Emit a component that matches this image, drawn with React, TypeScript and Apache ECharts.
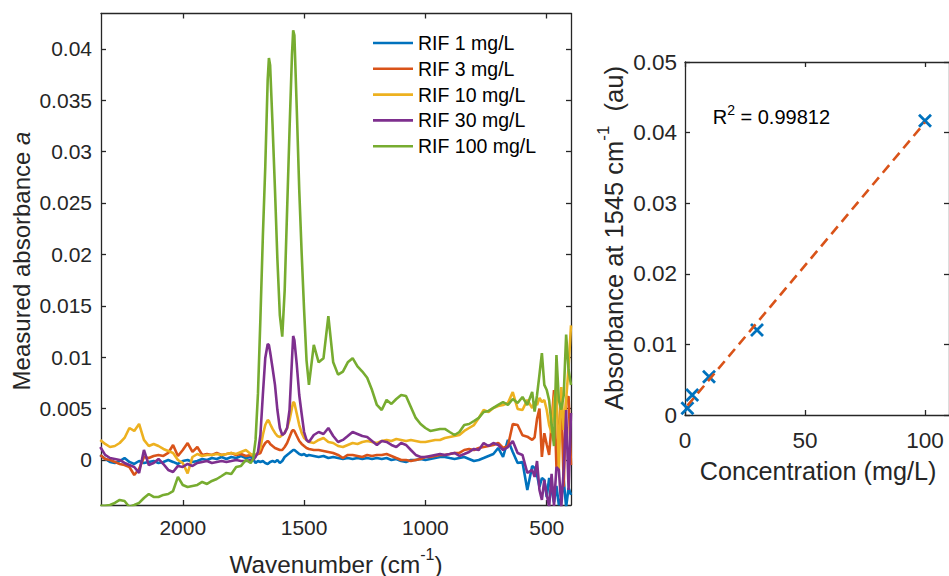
import React, { useEffect, useRef } from "react";
import * as echarts from "echarts";

// ---------- Left panel: spectra (absorbance values in units of 1e-3) ----------
const wavenumbers = [
  2340, 2320, 2300, 2280, 2260, 2240, 2220, 2200, 2180, 2160,
  2140, 2120, 2100, 2080, 2060, 2040, 2020, 2000, 1980, 1960,
  1940, 1920, 1900, 1880, 1860, 1840, 1820, 1800, 1780, 1760,
  1740, 1720,
  1710, 1700, 1690, 1680, 1670, 1660, 1650, 1645, 1640, 1630,
  1620, 1610, 1600, 1590, 1580, 1570, 1560, 1550, 1545, 1540,
  1530, 1520, 1510, 1500, 1490, 1480,
  1460, 1440, 1420, 1400, 1380, 1360, 1340, 1320, 1300, 1280,
  1260, 1240, 1220, 1200, 1180, 1160, 1140, 1120, 1100, 1080,
  1060, 1040, 1020, 1000, 980, 960, 940, 920, 900, 880,
  860, 840, 820, 800, 780, 760, 740, 720, 700, 680,
  660, 640, 620, 600, 580, 560,
  550, 540, 530, 520, 510, 500, 490, 480, 470, 460,
  450, 440, 430, 420, 410, 400,
];

const rif1 = [
  0.49, 0.1, -0.19, -0.29, -0.1, 0.19, -0.19, -0.39, -0.1, -0.29,
  -0.19, -0.1, -0.29, -0.19, 0, -0.19, -0.39, -0.1, 0, -0.19,
  -0.1, 0.1, 0, 0.19, 0.1, 0.29, 0.1, 0.29, 0.19, 0.39,
  0.19, 0.29,
  0.1, -0.29, -0.1, -0.19, -0.1, -0.29, -0.39, -0.29, -0.19, -0.1,
  -0.19, 0, -0.29, -0.1, 0.29, 0.49, 0.68, 0.88, 0.97, 0.97,
  0.78, 0.58, 0.49, 0.58, 0.39, 0.49,
  0.39, 0.29, 0.39, 0.19, 0.29, 0.19, 0.1, 0.19, 0.1, 0.19,
  0.1, 0.19, 0.1, 0.19, 0.1, 0.19, 0, 0.1, -0.1, -0.19,
  0, 0, 0.1, 0, 0.1, 0.19, 0.29, 0.29, 0.19, 0.1,
  0.19, 0.29, 0.1, -0.1, 0, 0.19, 0.39, 0.58, 1.17, 0.29,
  1.95, 0.78, -0.29, -0.19, -2.92, -0.58,
  -0.78, -1.46, -2.63, -1.75, -1.95, -3.6, -1.75, -2.92, -4.1, -2.53,
  -4.38, -3.7, -1.95, -4.57, -2.72, -3.4,
];

const rif3 = [
  0.49, 0.1, 0, -0.19, -0.39, -0.49, -0.68, -1.46, -0.88, 0.29,
  0.19, 0.39, 0.49, 0.39, 0.68, 1.46, 0.39, 0.97, 1.65, 0.78,
  1.26, 0.49, 0.58, 0.49, 0.68, 0.49, 0.58, 0.68, 0.49, 0.58,
  0.39, 0.49,
  0.39, 0.49, 0.58, 0.68, 1.26, 1.65, 1.85, 1.75, 1.56, 1.36,
  1.17, 1.07, 0.97, 0.97, 1.26, 1.65, 2.24, 2.82, 2.92, 2.82,
  2.33, 1.85, 1.56, 1.36, 1.17, 1.07,
  0.97, 0.97, 0.88, 0.78, 0.68, 0.49, 0.19, 0.49, 0.49, 0.39,
  0.29, 0.49, 0.39, 0.49, 0.49, 0.58, 0.39, 0.19, 0, 0,
  -0.1, 0, 0.1, 0.29, 0.29, 0.39, 0.49, 0.49, 0.58, 0.68,
  0.68, 0.97, 1.07, 0.97, 1.17, 1.26, 1.36, 1.46, 1.65, 1.17,
  1.36, 3.5, 3.4, 2.4, 2.27, 1.95,
  2.2, 4.0, 5.0, 0.3, 2.6, 1.5, 0.5, 3.5, 6.8, -0.7,
  3.0, 6.2, -2.6, 5.8, 6.2, -0.5,
];

const rif10 = [
  1.95, 1.56, 1.26, 1.36, 1.65, 2.14, 3.11, 2.82, 3.5, 1.95,
  1.36, 1.56, 1.36, 1.07, 0.88, 0.68, 0, -0.3, -1.3, 0.29,
  0.58, 0.39, 0.49, 0.49, 0.58, 0.49, 0.58, 0.68, 0.58, 0.78,
  0.97, 0.58,
  0.49, 0.49, 0.68, 1.17, 2.43, 3.4, 3.89, 3.79, 3.5, 3.02,
  2.63, 2.33, 2.24, 2.43, 2.63, 3.11, 3.89, 5.06, 5.64, 5.54,
  4.47, 3.4, 2.63, 2.14, 1.95, 1.75,
  1.65, 1.95, 2.14, 1.75, 1.65, 1.36, 1.26, 1.46, 1.65, 1.56,
  1.75, 1.85, 1.75, 1.65, 1.85, 1.95, 1.85, 2.04, 1.95, 1.85,
  1.95, 1.85, 1.75, 1.75, 1.85, 1.95, 1.95, 2.14, 2.24, 2.33,
  2.43, 2.82, 3.11, 3.4, 4.09, 4.86, 4.67, 5.06, 5.25, 5.35,
  5.54, 6.61, 4.96, 4.86, 5.84, 5.06,
  5.64, 5.35, 6.03, 5.64, 5.84, 4.86, 3.4, 2.63, 5.84, 7.1,
  -0.97, 7.1, 2.92, 5.84, 9.05, 13.1,
];

const rif30 = [
  1.26, 0.49, 0.19, 0.1, 0, -0.29, -0.49, -0.68, -1.26, 0.97,
  -0.49, -0.29, 0.1, -0.39, -0.97, -1.17, -0.58, -0.68, -0.39, -0.58,
  -0.29, -0.19, -0.1, -0.29, -0.19, -0.1, -0.19, -0.1, 0, -0.1,
  -0.1, 0,
  0, 0.29, 0.78, 2.43, 6.32, 9.92, 11.28, 11.19, 10.5, 8.95,
  7.3, 4.86, 3.11, 2.43, 2.63, 3.11, 4.86, 9.73, 12.06, 11.67,
  9.24, 6.32, 4.47, 2.72, 1.95, 1.75,
  2.43, 2.72, 2.53, 3.11, 2.33, 1.75, 1.95, 2.33, 2.72, 2.53,
  2.33, 2.24, 1.85, 1.46, 1.85, 1.75, 1.46, 1.26, 1.65, 1.46,
  0.97, 0.49, 0.29, 0.29, 0.39, 0.49, 0.58, 0.49, 0.58, 0.68,
  0.39, 0.58, 0.78, 1.07, 0.97, 1.65, 1.36, 1.65, 1.46, 0.97,
  1.26, 1.85, 0.68, 0.49, -1.26, -0.97,
  -1.65, -0.1, -2.92, -3.89, -1.95, -3.4, -4.57, -1.36, -4.47, -0.68,
  -0.97, -4.57, -0.97, 4.86, -2.92, 4.57,
];

const rif100 = [
  -4.46, -4.46, -4.38, -4.18, -3.89, -3.99, -4.57, -4.38, -4.18, -3.7,
  -3.31, -3.6, -3.6, -3.4, -3.31, -3.02, -1.65, -2.43, -2.63, -2.53,
  -2.43, -2.14, -2.33, -2.04, -1.85, -1.56, -1.26, -1.36, -0.68, -0.58,
  0, -0.29,
  0.1, 1.95, 6.5, 13.8, 21.7, 28.5, 37.0, 39.1, 38.4, 32.6,
  26.3, 19.5, 14.1, 12.0, 16.5, 24.3, 32.1, 39.4, 41.8, 41.3,
  34.0, 26.3, 20.1, 14.6, 9.7, 7.3,
  11.2, 9.5, 9.9, 14.0, 9.5, 8.3, 8.6, 9.5, 9.9, 9.1,
  8.6, 8.0, 6.8, 5.35, 4.86, 5.84, 5.45, 5.93, 6.32, 6.23,
  5.16, 4.09, 3.5, 3.11, 2.82, 2.92, 3.02, 3.02, 2.72, 2.43,
  2.72, 3.4, 3.5, 3.79, 4.09, 4.67, 4.77, 5.06, 5.35, 5.64,
  5.35, 5.93, 5.54, 6.13, 5.35, 6.61,
  4.7, 6.3, 8.3, 10.4, 7.3, 6.8, 5.8, 3.4, 1.36, 10.2,
  5.8, 4.9, 6.3, 12.2, 8.75, 7.3,
];

const spectraNames = ["RIF 1 mg/L", "RIF 3 mg/L", "RIF 10 mg/L", "RIF 30 mg/L", "RIF 100 mg/L"];
const spectraColors = ["#0072BD", "#D95319", "#EDB120", "#7E2F8E", "#77AC30"];
const spectra = [rif1, rif3, rif10, rif30, rif100];

const wavenumberTicks = [2000, 1500, 1000, 500];
const absorbanceTicks = [0, 0.005, 0.01, 0.015, 0.02, 0.025, 0.03, 0.035, 0.04];

// ---------- Right panel: calibration ----------
const concentrations = [1, 3, 10, 30, 100];
const peakAbsorbance = [0.00095, 0.00283, 0.00543, 0.01204, 0.04169];
const concentrationTicks = [0, 50, 100];
const peakTicks = [0, 0.01, 0.02, 0.03, 0.04, 0.05];
const rSquaredLabel = "0.99812";

const FONT = "'Liberation Sans', Arial, Helvetica, sans-serif";
const AXIS = "#262626";

function fmt(v: number) {
  return parseFloat(v.toFixed(4)).toString();
}

function linearFit(xs: number[], ys: number[]) {
  const n = xs.length;
  const mx = xs.reduce((a, b) => a + b, 0) / n;
  const my = ys.reduce((a, b) => a + b, 0) / n;
  let sxx = 0;
  let sxy = 0;
  for (let i = 0; i < n; i++) {
    sxx += (xs[i] - mx) * (xs[i] - mx);
    sxy += (xs[i] - mx) * (ys[i] - my);
  }
  const slope = sxy / sxx;
  return { slope, intercept: my - slope * mx };
}

function axisLine() {
  return { show: true, onZero: false, lineStyle: { color: AXIS, width: 1.3 } };
}

export default function App() {
  const ref = useRef<HTMLDivElement>(null);

  useEffect(() => {
    if (!ref.current) return;
    const chart = echarts.init(ref.current, undefined, { renderer: "svg" });

    const fit = linearFit(concentrations, peakAbsorbance);
    const xLo = Math.min(...concentrations);
    const xHi = Math.max(...concentrations);
    const fitData = [
      [xLo, fit.intercept + fit.slope * xLo],
      [xHi, fit.intercept + fit.slope * xHi],
    ];

    const tickStyle = (vals: number[]) => ({
      show: true,
      inside: true,
      length: 5,
      customValues: vals,
      lineStyle: { color: AXIS, width: 1.3 },
    });

    const option: any = {
      animation: false,
      textStyle: { fontFamily: FONT },
      grid: [
        { left: 101, top: 13.5, width: 470, height: 491.5 },
        { left: 685, top: 62, width: 265, height: 353 },
      ],
      xAxis: [
        {
          gridIndex: 0, type: "value", inverse: true, min: 400, max: 2337, position: "bottom",
          axisLine: axisLine(), axisTick: tickStyle(wavenumberTicks), splitLine: { show: false },
          axisLabel: {
            customValues: wavenumberTicks, formatter: (v: number) => String(v),
            fontSize: 21, color: AXIS, margin: 12, fontFamily: FONT,
          },
        },
        {
          gridIndex: 0, type: "value", inverse: true, min: 400, max: 2337, position: "top",
          axisLine: axisLine(), axisTick: tickStyle(wavenumberTicks), splitLine: { show: false },
          axisLabel: { show: false },
        },
        {
          gridIndex: 1, type: "value", min: 0, max: 110, position: "bottom",
          axisLine: axisLine(), axisTick: tickStyle(concentrationTicks), splitLine: { show: false },
          axisLabel: {
            customValues: concentrationTicks, formatter: (v: number) => String(v),
            fontSize: 22.5, color: AXIS, margin: 14, fontFamily: FONT,
          },
        },
        {
          gridIndex: 1, type: "value", min: 0, max: 110, position: "top",
          axisLine: axisLine(), axisTick: tickStyle(concentrationTicks), splitLine: { show: false },
          axisLabel: { show: false },
        },
      ],
      yAxis: [
        {
          gridIndex: 0, type: "value", min: -0.00438, max: 0.04343, position: "left",
          axisLine: axisLine(), axisTick: tickStyle(absorbanceTicks), splitLine: { show: false },
          axisLabel: { customValues: absorbanceTicks, formatter: fmt, fontSize: 21, color: AXIS, margin: 9, fontFamily: FONT },
        },
        {
          gridIndex: 0, type: "value", min: -0.00438, max: 0.04343, position: "right",
          axisLine: axisLine(), axisTick: tickStyle(absorbanceTicks), splitLine: { show: false },
          axisLabel: { show: false },
        },
        {
          gridIndex: 1, type: "value", min: 0, max: 0.05, position: "left",
          axisLine: axisLine(), axisTick: tickStyle(peakTicks), splitLine: { show: false },
          axisLabel: { customValues: peakTicks, formatter: fmt, fontSize: 22.5, color: AXIS, margin: 8, fontFamily: FONT },
        },
        {
          gridIndex: 1, type: "value", min: 0, max: 0.05, position: "right",
          axisLine: axisLine(), axisTick: tickStyle(peakTicks), splitLine: { show: false },
          axisLabel: { show: false },
        },
      ],
      legend: {
        show: true,
        orient: "vertical",
        left: 373,
        top: 33,
        padding: 0,
        icon: "rect",
        itemWidth: 40,
        itemHeight: 2.6,
        itemGap: 5.8,
        textStyle: { fontSize: 19.5, color: "#000", fontFamily: FONT, lineHeight: 20 },
        data: spectraNames,
      },
      series: [
        ...spectra.map((vals, k) => ({
          type: "line",
          name: spectraNames[k],
          xAxisIndex: 0,
          yAxisIndex: 0,
          data: wavenumbers.map((w, i) => [w, vals[i] * 1e-3]),
          symbol: "none",
          showSymbol: false,
          clip: true,
          silent: true,
          lineStyle: { width: 2.6, color: spectraColors[k] },
          itemStyle: { color: spectraColors[k] },
        })),
        {
          type: "line",
          name: "fit",
          xAxisIndex: 2,
          yAxisIndex: 2,
          data: fitData,
          symbol: "none",
          silent: true,
          lineStyle: { width: 2.6, color: "#D95319", type: [10, 6] },
        },
        {
          type: "scatter",
          name: "data",
          xAxisIndex: 2,
          yAxisIndex: 2,
          data: concentrations.map((c, i) => [c, peakAbsorbance[i]]),
          symbol: "path://M0,0L10,10M10,0L0,10",
          symbolSize: 12,
          silent: true,
          itemStyle: { color: "#0072BD", borderColor: "#0072BD", borderWidth: 2.8, opacity: 1 },
        },
      ],
      graphic: [
        {
          type: "text",
          x: 21,
          y: 261,
          rotation: Math.PI / 2,
          style: {
            text: "{n|Measured absorbance }{i|a}",
            align: "center",
            verticalAlign: "middle",
            fill: AXIS,
            rich: {
              n: { fontSize: 24, fontFamily: FONT, fill: AXIS },
              i: { fontSize: 24, fontFamily: FONT, fill: AXIS, fontStyle: "italic" },
            },
          },
        },
        {
          type: "text",
          x: 336,
          y: 564,
          style: {
            text: "{n|Wavenumber (cm}{s|-1}{n|)}",
            align: "center",
            verticalAlign: "middle",
            fill: AXIS,
            rich: {
              n: { fontSize: 24.3, lineHeight: 36, fontFamily: FONT, fill: AXIS },
              s: { fontSize: 16, verticalAlign: "top", fontFamily: FONT, fill: AXIS },
            },
          },
        },
        {
          type: "text",
          x: 614,
          y: 238,
          rotation: Math.PI / 2,
          style: {
            text: "{n|Absorbance at 1545 cm}{s|-1}{n|  (au)}",
            align: "center",
            verticalAlign: "middle",
            fill: AXIS,
            rich: {
              n: { fontSize: 25.5, lineHeight: 38, fontFamily: FONT, fill: AXIS },
              s: { fontSize: 17, verticalAlign: "top", fontFamily: FONT, fill: AXIS },
            },
          },
        },
        {
          type: "text",
          x: 818,
          y: 471,
          style: {
            text: "Concentration (mg/L)",
            align: "center",
            verticalAlign: "middle",
            fill: AXIS,
            fontSize: 25.2,
            fontFamily: FONT,
          },
        },
        {
          type: "text",
          x: 712.7,
          y: 117.3,
          style: {
            text: "{n|R}{s|2}{n| = " + rSquaredLabel + "}",
            align: "left",
            verticalAlign: "middle",
            fill: "#000",
            rich: {
              n: { fontSize: 20, lineHeight: 28, fontFamily: FONT, fill: "#000" },
              s: { fontSize: 14, verticalAlign: "top", fontFamily: FONT, fill: "#000" },
            },
          },
        },
      ],
    };

    chart.setOption(option);
    return () => chart.dispose();
  }, []);

  return (
    <div
      ref={ref}
      style={{ position: "fixed", left: 0, top: 0, width: 949, height: 576, background: "#fff" }}
    />
  );
}
